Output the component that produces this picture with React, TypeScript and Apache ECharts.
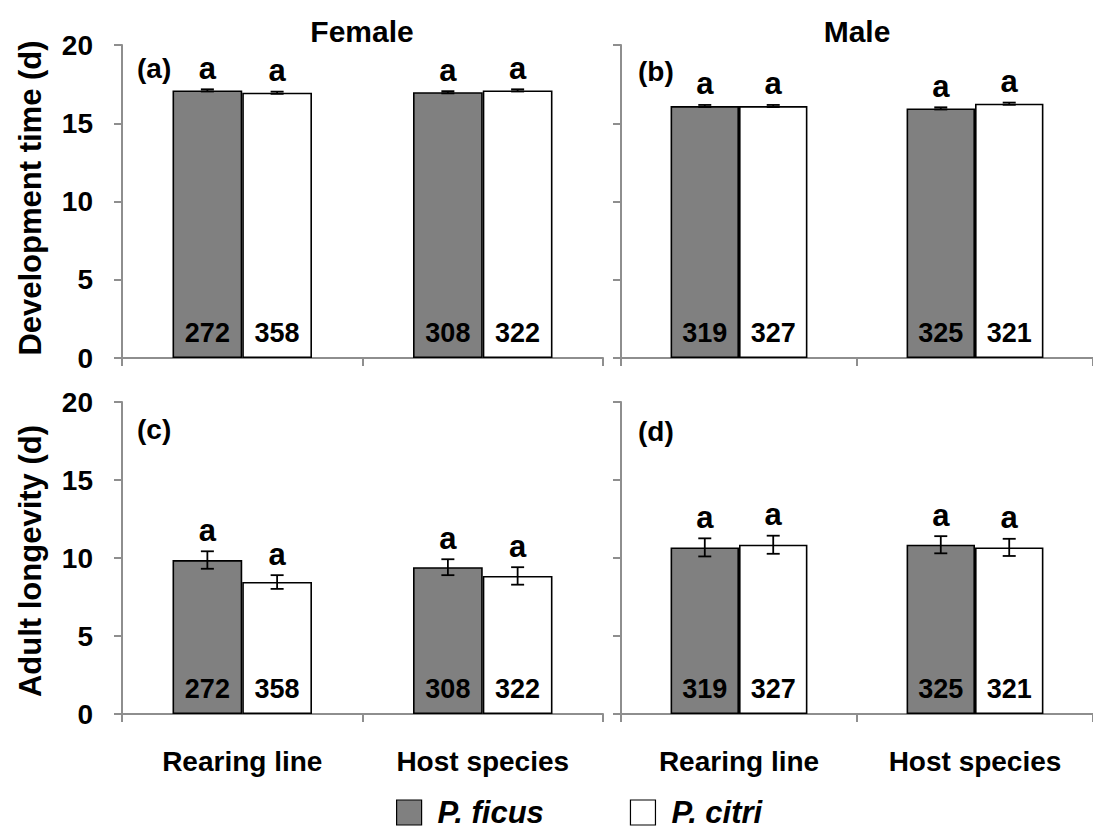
import React, { useEffect, useRef } from 'react';
import * as echarts from 'echarts';

const categories = ['Rearing line', 'Host species'];
const yTicks = { min: 0, max: 20, interval: 5 };

// Development time (d)
const devFemaleFicus = [17.1, 16.98];
const devFemaleCitri = [16.95, 17.1];
const devFemaleFicusSE = [0.07, 0.07];
const devFemaleCitriSE = [0.07, 0.07];
const devMaleFicus = [16.1, 15.95];
const devMaleCitri = [16.1, 16.25];
const devMaleFicusSE = [0.07, 0.07];
const devMaleCitriSE = [0.07, 0.07];

// Adult longevity (d)
const lonFemaleFicus = [9.87, 9.41];
const lonFemaleCitri = [8.46, 8.85];
const lonFemaleFicusSE = [0.56, 0.51];
const lonFemaleCitriSE = [0.44, 0.56];
const lonMaleFicus = [10.68, 10.85];
const lonMaleCitri = [10.85, 10.68];
const lonMaleFicusSE = [0.58, 0.55];
const lonMaleCitriSE = [0.58, 0.55];

// Sample sizes
const nFemaleFicus = [272, 308];
const nFemaleCitri = [358, 322];
const nMaleFicus = [319, 325];
const nMaleCitri = [327, 321];

// Significance letters
const lettersFicus = ['a', 'a'];
const lettersCitri = ['a', 'a'];

const panelLabels = ['(a)', '(b)', '(c)', '(d)'];
const sexTitles = ['Female', 'Male'];
const yNames = ['Development time (d)', 'Adult longevity (d)'];
const speciesNames = ['P. ficus', 'P. citri'];

const FONT = 'Arial, "Liberation Sans", Helvetica, sans-serif';
const CAT_GAP = 0.42;
const AXIS_COLOR = '#8e8e8e';

function errRender(side: number, letters: string[]) {
  return (params: any, api: any) => {
    const cat = api.value(0);
    const mean = api.value(1);
    const se = api.value(2);
    const c = api.coord([cat, mean]);
    const band = api.size([1, 0])[0];
    const bw = (band * (1 - CAT_GAP)) / 2;
    const x = c[0] + (side === 0 ? -bw / 2 : bw / 2);
    const yt = api.coord([cat, mean + se])[1];
    const yb = api.coord([cat, mean - se])[1];
    const cw = 6.5;
    const st = { stroke: '#000', lineWidth: 1.8 };
    return {
      type: 'group',
      children: [
        { type: 'line', shape: { x1: x, y1: yt, x2: x, y2: yb }, style: st },
        { type: 'line', shape: { x1: x - cw, y1: yt, x2: x + cw, y2: yt }, style: st },
        { type: 'line', shape: { x1: x - cw, y1: yb, x2: x + cw, y2: yb }, style: st },
        {
          type: 'text',
          x,
          y: yt - 21,
          style: {
            text: letters[params.dataIndex],
            fill: '#000',
            fontSize: 31,
            fontWeight: 'bold',
            fontFamily: FONT,
            align: 'center',
            verticalAlign: 'middle',
          },
        },
      ],
    };
  };
}

export default function App() {
  const ref = useRef<HTMLDivElement>(null);

  useEffect(() => {
    if (!ref.current) return;
    const chart = echarts.init(ref.current, undefined, { renderer: 'svg' });

    const grids = [
      { left: 122, top: 45, width: 481, height: 313 },
      { left: 621, top: 45, width: 472, height: 313 },
      { left: 122, top: 402, width: 481, height: 312 },
      { left: 621, top: 402, width: 472, height: 312 },
    ];

    const panels = [
      { ficus: devFemaleFicus, citri: devFemaleCitri, fse: devFemaleFicusSE, cse: devFemaleCitriSE, nf: nFemaleFicus, nc: nFemaleCitri },
      { ficus: devMaleFicus, citri: devMaleCitri, fse: devMaleFicusSE, cse: devMaleCitriSE, nf: nMaleFicus, nc: nMaleCitri },
      { ficus: lonFemaleFicus, citri: lonFemaleCitri, fse: lonFemaleFicusSE, cse: lonFemaleCitriSE, nf: nFemaleFicus, nc: nFemaleCitri },
      { ficus: lonMaleFicus, citri: lonMaleCitri, fse: lonMaleFicusSE, cse: lonMaleCitriSE, nf: nMaleFicus, nc: nMaleCitri },
    ];

    const xAxes = grids.map((_, i) => ({
      type: 'category',
      gridIndex: i,
      data: categories,
      axisLine: { show: true, lineStyle: { color: AXIS_COLOR, width: 2 } },
      axisTick: { show: true, length: 8, lineStyle: { color: AXIS_COLOR, width: 2 } },
      axisLabel: {
        show: i >= 2,
        margin: 33,
        fontSize: 28,
        fontWeight: 'bold',
        fontFamily: FONT,
        color: '#000',
      },
    }));

    const yAxes = grids.map((_, i) => ({
      type: 'value',
      gridIndex: i,
      min: yTicks.min,
      max: yTicks.max,
      interval: yTicks.interval,
      axisLine: { show: true, lineStyle: { color: AXIS_COLOR, width: 2 } },
      axisTick: { show: true, length: 8, lineStyle: { color: AXIS_COLOR, width: 2 } },
      splitLine: { show: false },
      axisLabel: {
        show: i % 2 === 0,
        margin: 29,
        fontSize: 28,
        fontWeight: 'bold',
        fontFamily: FONT,
        color: '#000',
      },
    }));

    const labelStyle = (arr: number[]) => ({
      show: true,
      position: 'insideBottom',
      distance: 12,
      formatter: (p: any) => String(arr[p.dataIndex]),
      fontSize: 27,
      fontWeight: 'bold',
      fontFamily: FONT,
      color: '#000',
    });

    const series: any[] = [];
    panels.forEach((p, i) => {
      series.push({
        name: speciesNames[0],
        type: 'bar',
        xAxisIndex: i,
        yAxisIndex: i,
        data: p.ficus,
        barGap: '0%',
        barCategoryGap: '42%',
        itemStyle: { color: '#808080', borderColor: '#000', borderWidth: 1.6 },
        label: labelStyle(p.nf),
        z: 2,
      });
      series.push({
        name: speciesNames[1],
        type: 'bar',
        xAxisIndex: i,
        yAxisIndex: i,
        data: p.citri,
        barGap: '0%',
        barCategoryGap: '42%',
        itemStyle: { color: '#ffffff', borderColor: '#000', borderWidth: 1.6 },
        label: labelStyle(p.nc),
        z: 2,
      });
      series.push({
        type: 'custom',
        xAxisIndex: i,
        yAxisIndex: i,
        data: p.ficus.map((v, k) => [k, v, p.fse[k]]),
        encode: { x: 0, y: 1 },
        renderItem: errRender(0, lettersFicus),
        z: 5,
      });
      series.push({
        type: 'custom',
        xAxisIndex: i,
        yAxisIndex: i,
        data: p.citri.map((v, k) => [k, v, p.cse[k]]),
        encode: { x: 0, y: 1 },
        renderItem: errRender(1, lettersCitri),
        z: 5,
      });
    });

    const textStyle = (size: number) => ({
      fill: '#000',
      fontSize: size,
      fontWeight: 'bold',
      fontFamily: FONT,
    });

    const graphic: any[] = [
      { type: 'text', x: 362, y: 31, style: { ...textStyle(30), text: sexTitles[0], align: 'center', verticalAlign: 'middle' } },
      { type: 'text', x: 857, y: 31, style: { ...textStyle(30), text: sexTitles[1], align: 'center', verticalAlign: 'middle' } },
      { type: 'text', x: 137, y: 68, style: { ...textStyle(28), text: panelLabels[0], align: 'left', verticalAlign: 'middle' } },
      { type: 'text', x: 638, y: 71, style: { ...textStyle(28), text: panelLabels[1], align: 'left', verticalAlign: 'middle' } },
      { type: 'text', x: 137, y: 429, style: { ...textStyle(28), text: panelLabels[2], align: 'left', verticalAlign: 'middle' } },
      { type: 'text', x: 638, y: 431, style: { ...textStyle(28), text: panelLabels[3], align: 'left', verticalAlign: 'middle' } },
      { type: 'text', x: 30, y: 198, rotation: Math.PI / 2, style: { ...textStyle(31), text: yNames[0], align: 'center', verticalAlign: 'middle' } },
      { type: 'text', x: 30, y: 561, rotation: Math.PI / 2, style: { ...textStyle(31), text: yNames[1], align: 'center', verticalAlign: 'middle' } },
    ];

    chart.setOption({
      animation: false,
      backgroundColor: '#ffffff',
      grid: grids.map((g) => ({ ...g, containLabel: false })),
      xAxis: xAxes,
      yAxis: yAxes,
      series,
      graphic,
      legend: {
        data: [
          { name: speciesNames[0], itemStyle: { color: '#808080', borderColor: '#000', borderWidth: 1.2 } },
          { name: speciesNames[1], itemStyle: { color: '#ffffff', borderColor: '#000', borderWidth: 1.2 } },
        ],
        selectedMode: false,
        left: 396,
        top: 797,
        padding: 0,
        icon: 'rect',
        itemWidth: 25,
        itemHeight: 25,
        itemGap: 86,
        textStyle: {
          fontSize: 31,
          lineHeight: 31,
          fontWeight: 'bold',
          fontStyle: 'italic',
          fontFamily: FONT,
          color: '#000',
          padding: [0, 0, 0, 11],
        },
      },
    });

    return () => {
      chart.dispose();
    };
  }, []);

  return (
    <div
      ref={ref}
      style={{ position: 'absolute', left: 0, top: 0, width: 1093, height: 829, background: '#fff' }}
    />
  );
}
